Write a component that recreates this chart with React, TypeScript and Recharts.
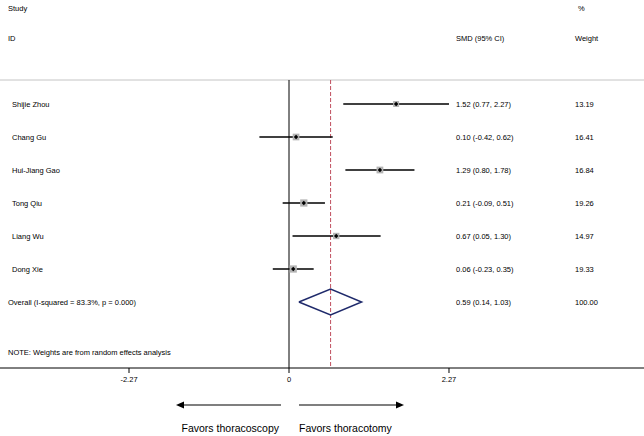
import React from 'react';
import { ComposedChart, Scatter, XAxis, YAxis, ErrorBar, ReferenceLine, Customized } from 'recharts';

// ---- data ----
const studies = ['Shijie Zhou', 'Chang Gu', 'Hui-Jiang Gao', 'Tong Qiu', 'Liang Wu', 'Dong Xie'];
const smd = [1.52, 0.10, 1.29, 0.21, 0.67, 0.06];
const ciLow = [0.77, -0.42, 0.80, -0.09, 0.05, -0.23];
const ciHigh = [2.27, 0.62, 1.78, 0.51, 1.30, 0.35];
const weights = [13.19, 16.41, 16.84, 19.26, 14.97, 19.33];

const overallLabel = 'Overall  (I-squared = 83.3%, p = 0.000)';
const overallSmd = 0.59;
const overallLow = 0.14;
const overallHigh = 1.03;
const overallWeight = 100.0;

const xTicks = [-2.27, 0, 2.27];
const leftNote = 'Favors thoracoscopy';
const rightNote = 'Favors thoracotomy';
const footNote = 'NOTE: Weights are from random effects analysis';

// ---- layout constants ----
const W = 644;
const H = 436;
const FONT = '"Liberation Sans", Arial, Helvetica, sans-serif';
const X_DOMAIN: [number, number] = [-4.1005, 5.0369];
const Y_DOMAIN: [number, number] = [-3.1515, 8];
const TOP_RULE_ROW = -0.727;
const DIAMOND_HALF = 0.39;
const BOX_SCALE = 1.65;

const fmt = (v: number) => v.toFixed(2);

const studyRows = studies.map((name, i) => ({
  label: name,
  x: smd[i],
  row: i,
  weight: weights[i],
  err: [smd[i] - ciLow[i], ciHigh[i] - smd[i]],
  ci: `${fmt(smd[i])} (${fmt(ciLow[i])}, ${fmt(ciHigh[i])})`,
  w: fmt(weights[i]),
  overall: false,
}));

const overallRow = studies.length;
const labelRows = [
  ...studyRows,
  {
    label: overallLabel,
    x: overallSmd,
    row: overallRow,
    weight: overallWeight,
    err: [0, 0],
    ci: `${fmt(overallSmd)} (${fmt(overallLow)}, ${fmt(overallHigh)})`,
    w: fmt(overallWeight),
    overall: true,
  },
];

const diamond = [
  { x: overallLow, row: overallRow },
  { x: overallSmd, row: overallRow - DIAMOND_HALF },
  { x: overallHigh, row: overallRow },
  { x: overallSmd, row: overallRow + DIAMOND_HALF },
  { x: overallLow, row: overallRow },
];

const Marker = (props: any) => {
  const { cx, cy, payload } = props;
  if (cx == null || cy == null) return <g />;
  const s = BOX_SCALE * Math.sqrt(payload.weight);
  const d = 2.2;
  return (
    <g>
      <rect x={cx - s / 2} y={cy - s / 2} width={s} height={s} fill="#b4b4b4" />
      <path d={`M${cx - d},${cy} L${cx},${cy - d} L${cx + d},${cy} L${cx},${cy + d} Z`} fill="#000" />
    </g>
  );
};

const RowText = (props: any) => {
  const { cy, payload } = props;
  if (cy == null) return <g />;
  return (
    <g fontFamily={FONT} fontSize={7.5} fill="#000">
      <text x={payload.overall ? 8 : 12} y={cy} dy="0.35em">{payload.label}</text>
      <text x={456} y={cy} dy="0.35em">{payload.ci}</text>
      <text x={575} y={cy} dy="0.35em">{payload.w}</text>
    </g>
  );
};

const Annotations = () => (
  <g fontFamily={FONT} fill="#000">
    <text x={8} y={8} dy="0.35em" fontSize={7.5}>Study</text>
    <text x={578} y={8} dy="0.35em" fontSize={7.5}>%</text>
    <text x={8} y={38} dy="0.35em" fontSize={7.5}>ID</text>
    <text x={456} y={38} dy="0.35em" fontSize={7.5}>SMD (95% CI)</text>
    <text x={575} y={38} dy="0.35em" fontSize={7.5}>Weight</text>
    <text x={8} y={352} dy="0.35em" fontSize={7.5}>{footNote}</text>
    <line x1={281} y1={405} x2={182} y2={405} stroke="#000" strokeWidth={1.2} />
    <polygon points="176,405 184,401.5 184,408.5" fill="#000" />
    <line x1={299} y1={405} x2={398} y2={405} stroke="#000" strokeWidth={1.2} />
    <polygon points="404,405 396,401.5 396,408.5" fill="#000" />
    <text x={279} y={428} dy="0.35em" fontSize={10.5} textAnchor="end">{leftNote}</text>
    <text x={299} y={428} dy="0.35em" fontSize={10.5}>{rightNote}</text>
  </g>
);

export default function App() {
  return (
    <div style={{ position: 'absolute', left: 0, top: 0, width: W, height: H, background: '#fff' }}>
      <ComposedChart width={W} height={H} margin={{ top: 0, right: 0, bottom: 0, left: 0 }}>
        <XAxis
          type="number"
          dataKey="x"
          domain={X_DOMAIN}
          allowDataOverflow
          ticks={xTicks}
          interval={0}
          height={68}
          tickSize={5}
          tickMargin={4}
          axisLine={{ stroke: '#000', strokeWidth: 1 }}
          tickLine={{ stroke: '#000' }}
          tick={{ fontSize: 7.5, fill: '#000', fontFamily: FONT }}
          tickFormatter={(v: number) => (v === 0 ? '0' : String(v))}
        />
        <YAxis type="number" dataKey="row" domain={Y_DOMAIN} reversed hide allowDataOverflow />
        <ReferenceLine y={TOP_RULE_ROW} stroke="#c4c4c4" strokeWidth={1} />
        <ReferenceLine
          segment={[{ x: 0, y: TOP_RULE_ROW }, { x: 0, y: Y_DOMAIN[1] }]}
          stroke="#000"
          strokeWidth={1}
        />
        <ReferenceLine
          segment={[{ x: overallSmd, y: TOP_RULE_ROW }, { x: overallSmd, y: Y_DOMAIN[1] }]}
          stroke="#c0505f"
          strokeWidth={1}
          strokeDasharray="4 2"
        />
        <Scatter data={studyRows} dataKey="row" shape={<Marker />} isAnimationActive={false}>
          <ErrorBar dataKey="err" direction="x" width={0} stroke="#000" strokeWidth={1.3} isAnimationActive={false} />
        </Scatter>
        <Scatter
          data={diamond}
          dataKey="row"
          fill="#1f2a6b"
          line={{ stroke: '#1f2a6b', strokeWidth: 1.5 }}
          lineType="joint"
          shape={() => <g />}
          isAnimationActive={false}
        />
        <Scatter data={labelRows} dataKey="row" shape={<RowText />} isAnimationActive={false} />
        <Customized component={<Annotations />} />
      </ComposedChart>
    </div>
  );
}
